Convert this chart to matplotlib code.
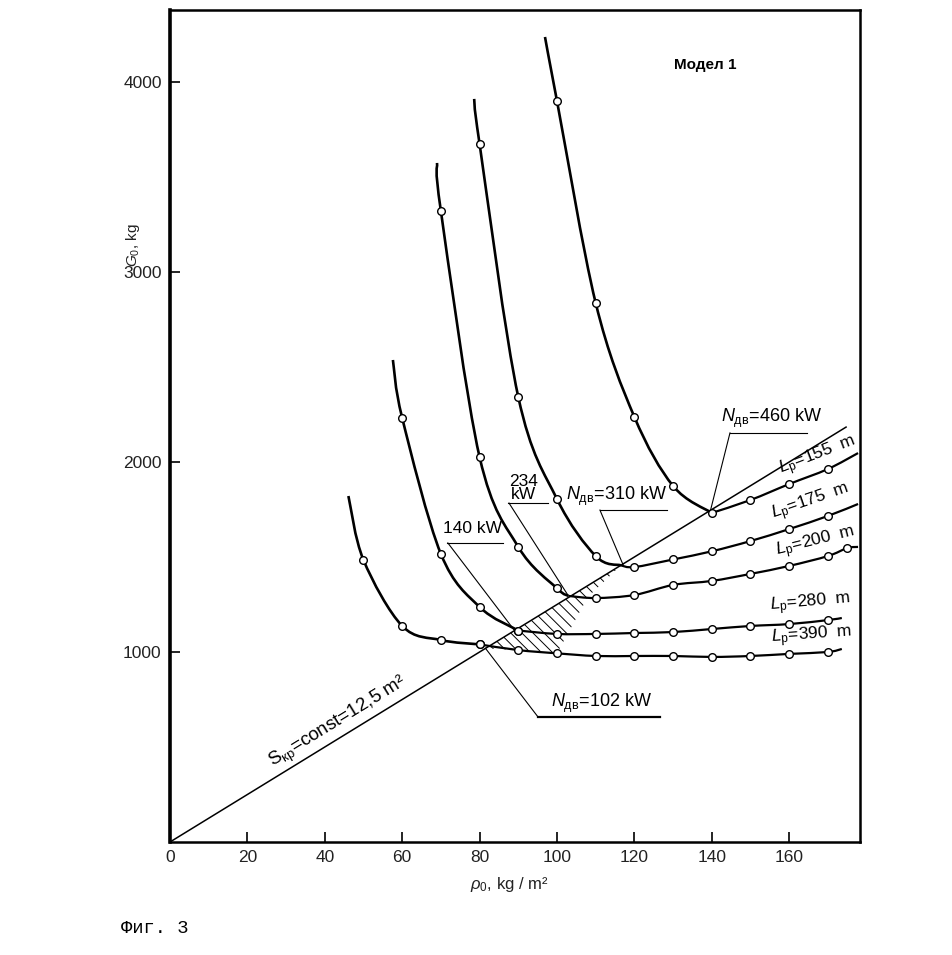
import numpy as np
import matplotlib
matplotlib.use("Agg")
import matplotlib.pyplot as plt
from matplotlib.path import Path
from matplotlib.patches import PathPatch, Polygon

plt.rcParams['font.family'] = ['Liberation Sans', 'DejaVu Sans']
plt.rcParams['mathtext.fontset'] = 'custom'
plt.rcParams['mathtext.rm'] = 'Liberation Sans'
plt.rcParams['mathtext.it'] = 'Liberation Sans:italic'
plt.rcParams['hatch.linewidth'] = 0.7

# ---------------- data ----------------
# engine power curves (kW): G0 [kg] vs wing loading p0 [kg/m2]
p102 = [46.1, 50, 60, 70, 80]
g102 = [1821, 1484, 1137, 1063, 1040]
m102 = [False, True, True, True, True]

p140 = [57.6, 60, 70, 80, 90]
g140 = [2537, 2232, 1516, 1237, 1113]
m140 = [False, True, True, True, True]

p234 = [69.0, 70, 80, 90, 100, 103]
g234 = [3574, 3321, 2026, 1553, 1335, 1295]
m234 = [False, True, True, True, True, False]

p310 = [78.6, 80, 90, 100, 110, 116.5]
g310 = [3911, 3674, 2342, 1805, 1505, 1456]
m310 = [False, True, True, True, True, False]

p460 = [96.9, 100, 110, 120, 130, 140]
g460 = [4237, 3900, 2837, 2237, 1874, 1732]
m460 = [False, True, True, True, True, True]

# take-off run curves L_p (m)
pL390 = [80, 90, 100, 110, 120, 130, 140, 150, 160, 170, 173.6]
gL390 = [1040, 1010, 993, 979, 979, 979, 974, 979, 990, 1000, 1016]
mL390 = [True] * 10 + [False]

pL280 = [90, 100, 110, 120, 130, 140, 150, 160, 170, 173.6]
gL280 = [1113, 1095, 1095, 1100, 1105, 1121, 1137, 1147, 1168, 1179]
mL280 = [True] * 9 + [False]

pL200 = [103, 110, 120, 130, 140, 150, 160, 170, 175, 177.8]
gL200 = [1295, 1284, 1300, 1353, 1374, 1411, 1453, 1505, 1547, 1553]
mL200 = [False] + [True] * 8 + [False]

pL175 = [116.5, 120, 130, 140, 150, 160, 170, 177.8]
gL175 = [1456, 1447, 1487, 1530, 1584, 1647, 1716, 1779]
mL175 = [False] + [True] * 6 + [False]

pL155 = [140, 150, 160, 170, 177.8]
gL155 = [1732, 1800, 1884, 1963, 2047]
mL155 = [False, True, True, True, False]

# constant wing area line  G0 = S * p0
S_wing = 12.5
p_line = [0, 174.7]

# hatched zone
hatch_p = [81.5, 116.5, 108, 100, 90]
hatch_g = [1019, 1456, 1290, 993, 1010]

xticks = [0, 20, 40, 60, 80, 100, 120, 140, 160]
yticks = [1000, 2000, 3000, 4000]

# ---------------- drawing ----------------
W, H = 953, 955
fig = plt.figure(figsize=(W / 100, H / 100), dpi=100)
ax = fig.add_axes([170 / W, 1 - 842 / H, (860 - 170) / W, (842 - 10) / H])
ax.set_xlim(0, 178.3)
ax.set_ylim(0, 4379)


def smooth_path(xs, ys):
    pts = np.column_stack([xs, ys]).astype(float)
    n = len(pts)
    verts = [pts[0]]
    codes = [Path.MOVETO]
    for i in range(n - 1):
        p0 = pts[i - 1] if i > 0 else pts[i]
        p1 = pts[i]
        p2 = pts[i + 1]
        p3 = pts[i + 2] if i + 2 < n else pts[i + 1]
        c1 = p1 + (p2 - p0) / 6.0
        c2 = p2 - (p3 - p1) / 6.0
        verts += [c1, c2, p2]
        codes += [Path.CURVE4] * 3
    return Path(verts, codes)


def draw_curve(xs, ys, mask, lw):
    ax.add_patch(PathPatch(smooth_path(xs, ys), fill=False, lw=lw,
                           ec='black', capstyle='butt', zorder=3))
    mx = [x for x, m in zip(xs, mask) if m]
    my = [y for y, m in zip(ys, mask) if m]
    ax.plot(mx, my, 'o', ms=5.5, mfc='white', mec='black', mew=1.0, zorder=5)


for xs, ys, mk in [(p102, g102, m102), (p140, g140, m140), (p234, g234, m234),
                   (p310, g310, m310), (p460, g460, m460)]:
    draw_curve(xs, ys, mk, 1.9)
for xs, ys, mk in [(pL390, gL390, mL390), (pL280, gL280, mL280),
                   (pL200, gL200, mL200), (pL175, gL175, mL175),
                   (pL155, gL155, mL155)]:
    draw_curve(xs, ys, mk, 1.6)

# wing area line
ax.plot(p_line, [S_wing * p for p in p_line], color='black', lw=1.1, zorder=2)

# hatched region
ax.add_patch(Polygon(np.column_stack([hatch_p, hatch_g]), closed=True,
                     fill=False, hatch='\\\\\\', lw=0, ec='black', zorder=2))

# leader lines and underlines
lw_l = 0.8
leaders = [
    ([144.7, 164.6], [2153, 2153]), ([144.7, 139.5], [2153, 1732]),
    ([111.1, 128.4], [1747, 1747]), ([111.1, 117.1], [1747, 1458]),
    ([87.3, 97.7], [1784, 1784]), ([87.6, 102.8], [1784, 1300]),
    ([71.6, 86.0], [1574, 1574]), ([71.8, 89.0], [1574, 1114]),
    ([95.1, 81.5], [658, 1020]),
]
for xs, ys in leaders:
    ax.plot(xs, ys, color='black', lw=lw_l, zorder=2)
ax.plot([95.1, 126.6], [658, 658], color='black', lw=1.6, zorder=2)

txt = dict(ha='center', va='center', zorder=6)
ax.text(138.2, 4089, 'Модел 1', fontweight='bold', fontsize=11, **txt)
ax.text(155.5, 2230, r'$N_{\mathrm{дв}}$=460 kW', fontsize=13, **txt)
ax.text(115.5, 1817, r'$N_{\mathrm{дв}}$=310 kW', fontsize=13, **txt)
ax.text(91.3, 1865, '234\nkW', linespacing=0.85, fontsize=12.5, **txt)
ax.text(78.2, 1648, '140 kW', fontsize=12.5, **txt)
ax.text(111.6, 727, r'$N_{\mathrm{дв}}$=102 kW', fontsize=13, **txt)

rtxt = dict(ha='center', va='center', fontsize=12.5, rotation_mode='anchor', zorder=6)
ax.text(167.4, 2032, r'$L_{\mathrm{р}}$=155  m', rotation=21, **rtxt)
ax.text(165.6, 1790, r'$L_{\mathrm{р}}$=175  m', rotation=19, **rtxt)
ax.text(166.7, 1580, r'$L_{\mathrm{р}}$=200  m', rotation=14, **rtxt)
ax.text(165.4, 1255, r'$L_{\mathrm{р}}$=280  m', rotation=5, **rtxt)
ax.text(165.9, 1086, r'$L_{\mathrm{р}}$=390  m', rotation=4, **rtxt)
ax.text(43.4, 630, r'$\mathrm{S}_{\mathrm{кр}}$=const=12,5 m²', rotation=31.5,
        ha='center', va='center', fontsize=13.5, rotation_mode='anchor', zorder=6)

# axes styling
ax.set_xticks(xticks)
ax.set_xticklabels([str(v) for v in xticks])
ax.set_yticks(yticks)
ax.set_yticklabels([str(v) for v in yticks])
ax.tick_params(direction='in', length=7, width=1.2, labelsize=12.5, colors='black',
               labelcolor='#222222', pad=6)
for side in ['top', 'right', 'bottom']:
    ax.spines[side].set_linewidth(1.8)
ax.spines['left'].set_linewidth(2.6)

fig.text(133 / W, 1 - 245 / H, r'$G_0$, kg', rotation=90, ha='center', va='center',
         fontsize=11, color='#222222')
fig.text(509 / W, 1 - 884 / H, r'$\rho_0$, kg / m²', ha='center', va='center',
         fontsize=12, color='#222222')
fig.text(155 / W, 1 - 928 / H, 'Фиг. 3', ha='center', va='center', fontsize=13.5,
         family=['Liberation Mono', 'DejaVu Sans Mono'])

fig.savefig('out.png', dpi=100)
